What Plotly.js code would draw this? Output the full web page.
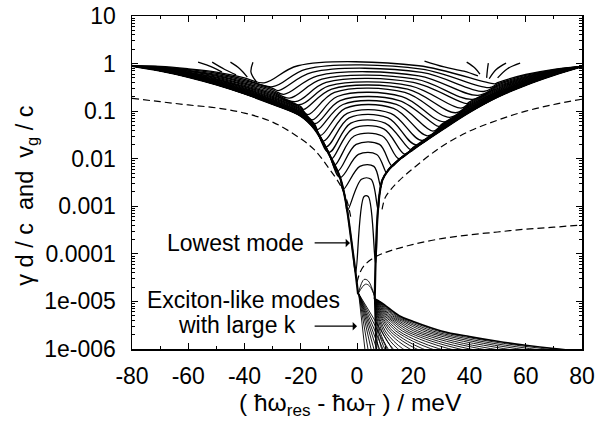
<!DOCTYPE html>
<html><head><meta charset="utf-8">
<script src="https://cdn.plot.ly/plotly-3.0.1.min.js"></script>
<style>html,body{margin:0;padding:0;background:#fff}#chart{width:601px;height:423px}</style>
</head><body><div id="chart"></div>
<script>
// ---- data ----
// left wall of the valley (lower edge of the left bundle) and bundle spread (decades)
const wallLx = [-80,-70,-60,-50,-40,-30,-20,-15,-10,-6,-4,-2.5,-1.5,-0.5,0.4];
const wallLy = [0.891,0.708,0.525,0.363,0.234,0.141,0.0794,0.0417,0.0126,0.00398,0.00126,0.000316,0.000112,0.0000398,0.0000141];
const wallLs = [0,0.09,0.17,0.26,0.33,0.4,0.42,0.4,0.34,0.26,0.18,0.11,0.06,0.03,0];
// right wall
const wallRx = [80,70,60,50,40,30,20,15,11,9,8,7.3,6.8,6.5,6.3];
const wallRy = [0.871,0.575,0.355,0.2,0.0955,0.0398,0.0158,0.00955,0.00562,0.00355,0.00178,0.00063,0.000158,0.0000398,0.0000112];
const wallRs = [0,0.12,0.22,0.3,0.36,0.4,0.4,0.36,0.3,0.24,0.18,0.12,0.07,0.03,0];
// right wall continuation to the bottom
const wallRdownX = [6.3,6.5,6.8];
const wallRdownY = [0.0000112,0.0000032,0.000001];
// nested arches: top level, left turn x, flat-top start/end x, right turn x
const archTop = [0.90,0.766,0.652,0.553,0.471,0.401,0.340,0.290,0.247,0.203,0.167,0.138,0.114,0.090,0.072,0.056,0.0425,0.030,0.020,0.0123,0.0069,0.0037,0.0016];
const archXL  = [-33,-30,-28,-26,-24,-22,-20.5,-19,-17.5,-16,-15,-14,-13,-12,-11,-10,-9,-8,-7,-6,-5,-3.5,-0.5];
const archAL  = [-21,-18,-16,-14,-12.5,-11,-10,-9,-8,-7,-6,-5,-4.2,-3.5,-2.8,-2.2,-1.6,-1,-0.3,0.5,1,1.6,2.5];
const archAR  = [22,23,23,22,21,20,19,18,17,16,15,14,13,12,11,10,9.5,9,8,7,6,5,4];
const archXR  = [49,47,45,43,41,39,37,35,33,31,29,27,25,23,21,19,17,15,12.5,10.5,8.5,7.5,6.6];
// short truncated branches near the top
const tailLx = [[-37,-37.7,-35.6],[-45,-41.6,-39],[-51.5,-47,-43],[-56.5,-51.5,-48]];
const tailLy = [[1.07,0.66,0.40],[1.07,0.77,0.52],[1.07,0.75,0.58],[1.07,0.84,0.66]];
const tailRx = [[24,31,38,43],[39,42,43.7],[46.7,46.4,46.1],[53,49.5,47],[58,53.5,50]];
const tailRy = [[1.13,0.85,0.69,0.55],[1.07,0.8,0.6],[1.02,0.77,0.5],[1.02,0.75,0.48],[1.02,0.78,0.5]];
// dashed curves (group velocity)
const dashLx = [-80,-70,-60,-50,-40,-30,-20,-15,-10,-6,-3.5,-2];
const dashLy = [0.186,0.158,0.135,0.117,0.0912,0.0589,0.0263,0.0151,0.0063,0.00282,0.00126,0.0005];
const dashRx = [80,70,60,50,40,30,20,15,12,10,8.8];
const dashRy = [0.178,0.138,0.1,0.0646,0.038,0.0178,0.0063,0.00347,0.00224,0.00151,0.00079];
const dashLowX = [0,1,2.5,5,8,12,20,30,40,50,60,70,80];
const dashLowY = [2.51e-5,3.98e-5,5.62e-5,7.59e-5,9.55e-5,1.17e-4,1.58e-4,2.09e-4,2.51e-4,2.88e-4,3.31e-4,3.63e-4,4.07e-4];
// exciton-like modes: upper envelope of the fan and where fan lines reach the bottom axis
const fanEnvX = [6.4,8,10,15,20,30,40,50,60,70,80];
const fanEnvY = [1.12e-5,1.0e-5,8.3e-6,5.0e-6,3.8e-6,2.4e-6,1.82e-6,1.45e-6,1.2e-6,1.02e-6,8.9e-7];
const fanEnds = [7.6,8.8,9.9,11.1,12.9,14.6,16.4,18.8,21.2,23.6,26.6,29.5,33.1,36.6,40.2,44.3,48.4,53.2,57.9,62.6,67.4];
const steepStart = [0.6, 1.45e-5];
const steepEnds = [2.8,3.9,5.0,6.0,7.0,8.0,9.2,10.7,12.5];
const smallArchX = [[0.5,2.5,4,6.4],[0.5,3,4.5,6.4]];
const smallArchY = [[1.5e-5,2.9e-5,2.7e-5,1.2e-5],[1.5e-5,2.3e-5,2.1e-5,1.2e-5]];
// ticks
const xTickVals = [-80,-60,-40,-20,0,20,40,60,80];
const xTickText = ['-80','-60','-40','-20','0','20','40','60','80'];
const yTickVals = [1e-6,1e-5,1e-4,1e-3,1e-2,1e-1,1,10];
const yTickText = ['1e-006','1e-005','0.0001','0.001','0.01','0.1','1','10'];

// ---- build ----
const lg = v => Math.log10(v);
function interp(xs, vs, x){
  for (let i=0;i<xs.length-1;i++){
    const a=xs[i], b=xs[i+1];
    if ((x-a)*(x-b) <= 0){ const t=(b===a)?0:(x-a)/(b-a); return vs[i]+t*(vs[i+1]-vs[i]); }
  }
  return vs[vs.length-1];
}
const LL = wallLy.map(lg), RL = wallRy.map(lg);
const traces = [];
const thin = {color:'#000', width:1.3, shape:'spline', smoothing:1};
const K = archTop.length;
for (let k=0;k<K;k++){
  const g = Math.pow(1 - k/(K-1), 2);
  const xs=[], ys=[];
  for (let i=0;i<wallLx.length;i++){
    if (wallLx[i] < archXL[k]-0.4){ xs.push(wallLx[i]); ys.push(Math.pow(10, LL[i]+g*wallLs[i])); }
  }
  xs.push(archXL[k]); ys.push(Math.pow(10, interp(wallLx,LL,archXL[k]) + g*interp(wallLx,wallLs,archXL[k])));
  xs.push(archAL[k]); ys.push(archTop[k]);
  xs.push(archAR[k]); ys.push(archTop[k]);
  xs.push(archXR[k]); ys.push(Math.pow(10, interp(wallRx,RL,archXR[k]) + g*interp(wallRx,wallRs,archXR[k])));
  for (let i=wallRx.length-1;i>=0;i--){
    if (wallRx[i] > archXR[k]+0.4){ xs.push(wallRx[i]); ys.push(Math.pow(10, RL[i]+g*wallRs[i])); }
  }
  traces.push({x:xs, y:ys, mode:'lines', line:thin, hoverinfo:'skip'});
}
tailLx.forEach((t,i)=>traces.push({x:t, y:tailLy[i], mode:'lines', line:thin, hoverinfo:'skip'}));
tailRx.forEach((t,i)=>traces.push({x:t, y:tailRy[i], mode:'lines', line:thin, hoverinfo:'skip'}));
// thick walls (lowest modes)
traces.push({x:wallLx, y:wallLy, mode:'lines', line:{color:'#000', width:2.2, shape:'spline'}, hoverinfo:'skip'});
traces.push({x:wallRx, y:wallRy, mode:'lines', line:{color:'#000', width:2.2, shape:'spline'}, hoverinfo:'skip'});
traces.push({x:wallRdownX, y:wallRdownY, mode:'lines', line:{color:'#000', width:1.6}, hoverinfo:'skip'});
// exciton-like fan
const envEnd = 71.4;
fanEnds.forEach(e=>{
  const c = (e - fanEnvX[0])/(envEnd - fanEnvX[0]);
  traces.push({x:fanEnvX.map(x=>fanEnvX[0]+(x-fanEnvX[0])*c), y:fanEnvY, mode:'lines', line:{color:'#000', width:0.9, shape:'spline'}, hoverinfo:'skip'});
});
traces.push({x:fanEnvX, y:fanEnvY, mode:'lines', line:{color:'#000', width:1.6, shape:'spline'}, hoverinfo:'skip'});
steepEnds.forEach(e=>traces.push({x:[steepStart[0], e], y:[steepStart[1], 1e-6], mode:'lines', line:{color:'#000', width:0.9}, hoverinfo:'skip'}));
smallArchX.forEach((s,i)=>traces.push({x:s, y:smallArchY[i], mode:'lines', line:{color:'#000', width:0.9, shape:'spline'}, hoverinfo:'skip'}));
// dashed
const dash = {color:'#000', width:1.2, dash:'7px,4px', shape:'spline'};
traces.push({x:dashLx, y:dashLy, mode:'lines', line:dash, hoverinfo:'skip'});
traces.push({x:dashRx, y:dashRy, mode:'lines', line:dash, hoverinfo:'skip'});
traces.push({x:dashLowX, y:dashLowY, mode:'lines', line:dash, hoverinfo:'skip'});

const minorY = [];
for (let e=-6;e<1;e++) for (let d=2;d<10;d++) minorY.push(d*Math.pow(10,e));

const fam = 'Liberation Sans, Arial, sans-serif';
const font = {family:fam, size:23, color:'#000'};
const nb = '\u00A0', zw = '\u200B';
const layout = {
  width:601, height:423,
  margin:{l:132, r:19, t:16, b:74},
  paper_bgcolor:'#fff', plot_bgcolor:'#fff',
  showlegend:false, font:font,
  xaxis:{range:[-80,80], tickmode:'array', tickvals:xTickVals, ticktext:xTickText,
    tickfont:{family:fam, size:23, color:'#000'},
    ticks:'inside', ticklen:6, tickwidth:1, tickcolor:'#000',
    showline:true, linewidth:1.5, linecolor:'#000', mirror:'ticks',
    showgrid:false, zeroline:false, ticklabelstandoff:6,
    minor:{tickmode:'linear', tick0:0, dtick:10, ticks:'inside', ticklen:3, tickcolor:'#000', showgrid:false},
    title:{text:'( ħω<sub>res</sub> - ħω<sub>T</sub> ) / meV'+nb+nb+zw, font:{family:fam, size:24.5, color:'#000'}, standoff:3}},
  yaxis:{type:'log', range:[-6,1], tickmode:'array', tickvals:yTickVals, ticktext:yTickText,
    tickfont:{family:fam, size:23, color:'#000'},
    ticks:'inside', ticklen:6, tickwidth:1, tickcolor:'#000',
    showline:true, linewidth:1.5, linecolor:'#000', mirror:'ticks',
    showgrid:false, zeroline:false, ticklabelstandoff:10,
    minor:{tickmode:'array', tickvals:minorY, ticks:'inside', ticklen:3, tickcolor:'#000', showgrid:false},
    title:{text:'γ d / c'+nb+nb+'and'+nb+nb+'v<sub>g</sub> / c'+nb+nb+nb+nb+zw, font:{family:fam, size:23.5, color:'#000'}, standoff:4}},
  annotations:[
    {x:-18.1, y:-3.77, xref:'x', yref:'y', text:'Lowest mode', showarrow:false, xanchor:'right', yanchor:'middle', font:font},
    {x:-2.5, y:-3.77, ax:-15.6, ay:-3.77, xref:'x', yref:'y', axref:'x', ayref:'y', text:'', showarrow:true, arrowhead:1, arrowsize:1.3, arrowwidth:1.1, arrowcolor:'#000'},
    {x:-5.33, y:-4.97, xref:'x', yref:'y', text:'Exciton-like modes', showarrow:false, xanchor:'right', yanchor:'middle', font:font},
    {x:-21.0, y:-5.5, xref:'x', yref:'y', text:'with large k', showarrow:false, xanchor:'right', yanchor:'middle', font:font},
    {x:0, y:-5.52, ax:-15.6, ay:-5.52, xref:'x', yref:'y', axref:'x', ayref:'y', text:'', showarrow:true, arrowhead:1, arrowsize:1.3, arrowwidth:1.1, arrowcolor:'#000'}
  ]
};
Plotly.newPlot('chart', traces, layout, {staticPlot:true, displayModeBar:false});
</script></body></html>
